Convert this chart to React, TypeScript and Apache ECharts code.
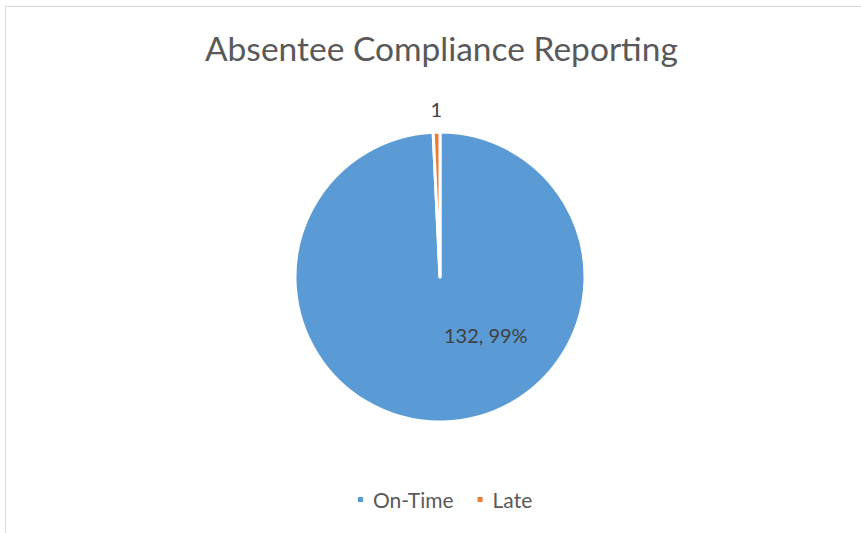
import React, { useEffect, useRef } from "react";
import * as echarts from "echarts";

const TITLE = "Absentee Compliance Reporting";
const categories = ["On-Time", "Late"];
const values = [132, 1];
const colors = ["#5B9BD5", "#ED7D31"];

export default function App() {
  const ref = useRef<HTMLDivElement>(null);
  useEffect(() => {
    if (!ref.current) return;
    const chart = echarts.init(ref.current, null, { renderer: "svg" });
    const total = values.reduce((a, b) => a + b, 0);
    const font = "Lato, 'Open Sans', sans-serif";
    chart.setOption({
      animation: false,
      backgroundColor: "#ffffff",
      title: {
        text: TITLE,
        left: 205,
        top: 31,
        padding: 0,
        textStyle: { fontFamily: font, fontSize: 33.5, fontWeight: 400, color: "#595959" },
      },
      legend: {
        bottom: 18,
        left: 351,
        icon: "rect",
        itemWidth: 7,
        itemHeight: 7,
        itemGap: 22,
        data: categories,
        textStyle: { fontFamily: font, fontSize: 21, color: "#595959", padding: [0, 0, 0, 4] },
      },
      graphic: [
        {
          type: "rect",
          shape: { x: 5.5, y: 6.5, width: 900, height: 600 },
          style: { fill: "none", stroke: "#d9d9d9", lineWidth: 1 },
          silent: true,
        },
      ],
      series: [
        {
          type: "pie",
          center: [440, 277],
          radius: [0, 145],
          startAngle: 90,
          clockwise: true,
          itemStyle: { borderColor: "#ffffff", borderWidth: 3 },
          label: { fontFamily: font, fontSize: 20, color: "#404040" },
          labelLine: { show: false },
          data: categories.map((name, i) => {
            const item: any = { name, value: values[i], itemStyle: { color: colors[i] } };
            if (i === 0) {
              item.label = {
                position: "inside",
                offset: [44, -17],
                formatter: () => `${values[i]}, ${Math.round((values[i] / total) * 100)}%`,
              };
            } else {
              item.label = {
                position: "inside",
                offset: [-2, -93],
                formatter: () => `${values[i]}`,
              };
            }
            return item;
          }),
        },
      ],
    });
    return () => chart.dispose();
  }, []);
  return (
    <div
      ref={ref}
      style={{ position: "absolute", left: 0, top: 0, width: 861, height: 533 }}
    />
  );
}
